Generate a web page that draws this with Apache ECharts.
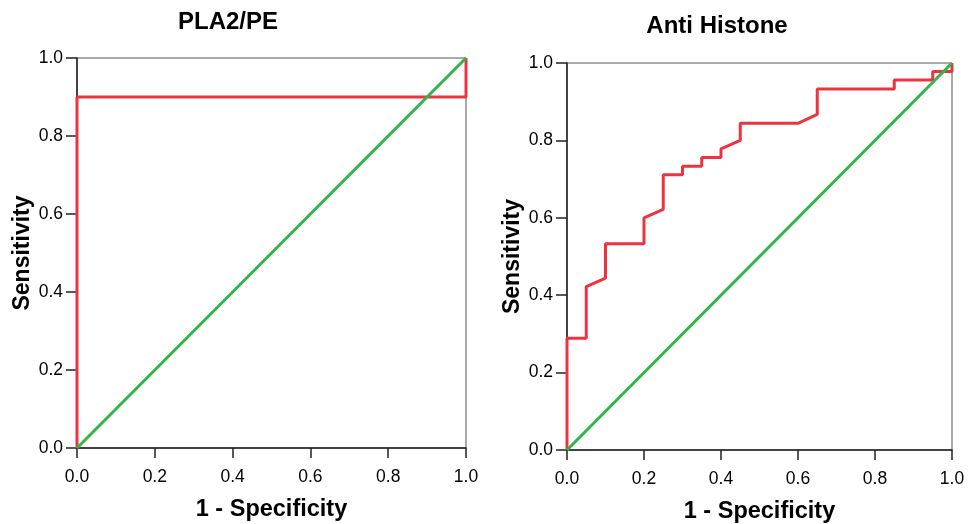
<!DOCTYPE html>
<html>
<head>
<meta charset="utf-8">
<script src="https://cdn.jsdelivr.net/npm/echarts@6/dist/echarts.min.js"></script>
<style>
  html, body { margin: 0; padding: 0; background: #fff; }
  #chart { width: 968px; height: 524px; }
</style>
</head>
<body>
<div id="chart"></div>
<script>
// Panel titles
const titles = ['PLA2/PE', 'Anti Histone'];
const xTitle = '1 - Specificity';
const yTitle = 'Sensitivity';

// PLA2/PE ROC curve (1 - specificity, sensitivity)
const plaFpr = [0, 0, 1, 1];
const plaTpr = [0, 0.9, 0.9, 1];

// Anti Histone ROC curve (1 - specificity, sensitivity)
const histFpr = [0, 0, 0.05, 0.05, 0.10, 0.10, 0.20, 0.20, 0.25, 0.25, 0.30, 0.30, 0.35, 0.35,
                 0.40, 0.40, 0.45, 0.45, 0.60, 0.65, 0.65, 0.85, 0.85, 0.95, 0.95, 1, 1];
const histTpr = [0, 0.289, 0.289, 0.422, 0.444, 0.533, 0.533, 0.600, 0.622, 0.711, 0.711, 0.733, 0.733, 0.756,
                 0.756, 0.778, 0.800, 0.844, 0.844, 0.867, 0.933, 0.933, 0.956, 0.956, 0.978, 0.978, 1];

// Reference diagonal
const refX = [0, 1];
const refY = [0, 1];

const pairs = (xs, ys) => xs.map((x, i) => [x, ys[i]]);

const FONT = '"Liberation Sans", Arial, sans-serif';
const RED = '#ee3340';
const GREEN = '#2fb548';
const AXIS = '#222';

const grids = [
  { left: 77, right: 502, top: 58, bottom: 76 },
  { left: 567, right: 16, top: 63, bottom: 74 }
].map(g => Object.assign(g, {
  show: true, borderColor: '#555', borderWidth: 1, backgroundColor: 'transparent',
  containLabel: false, outerBoundsMode: 'none'
}));

function xAxis(i) {
  return {
    type: 'value', gridIndex: i, min: 0, max: 1, interval: 0.2,
    name: xTitle, nameLocation: 'middle', nameGap: 50,
    nameTextStyle: { fontFamily: FONT, fontSize: 23.5, fontWeight: 'bold', color: '#000' },
    axisLine: { show: true, lineStyle: { color: AXIS, width: 1.5 } },
    axisTick: { show: true, length: 10, lineStyle: { color: AXIS, width: 1.5 } },
    axisLabel: { fontFamily: FONT, fontSize: 17.5, color: '#000', margin: 20, formatter: v => v.toFixed(1) },
    splitLine: { show: false }
  };
}
function yAxis(i) {
  return {
    type: 'value', gridIndex: i, min: 0, max: 1, interval: 0.2,
    name: yTitle, nameLocation: 'middle', nameGap: 43, nameRotate: 90,
    nameTextStyle: { fontFamily: FONT, fontSize: 23, fontWeight: 'bold', color: '#000' },
    axisLine: { show: true, lineStyle: { color: AXIS, width: 1.5 } },
    axisTick: { show: true, length: 11, lineStyle: { color: AXIS, width: 1.5 } },
    axisLabel: { fontFamily: FONT, fontSize: 17.5, color: '#000', margin: 14, formatter: v => v.toFixed(1) },
    splitLine: { show: false }
  };
}

function lineSeries(i, data, color, width) {
  return {
    type: 'line', xAxisIndex: i, yAxisIndex: i, data: data,
    showSymbol: false, symbol: 'none', animation: false, silent: true,
    lineStyle: { color: color, width: width }
  };
}

const chart = echarts.init(document.getElementById('chart'), null, { renderer: 'canvas' });
chart.setOption({
  backgroundColor: '#fff',
  animation: false,
  title: [
    { text: titles[0], left: 223, top: 5, textAlign: 'center',
      textStyle: { fontFamily: FONT, fontSize: 24, fontWeight: 'bold', color: '#000' } },
    { text: titles[1], left: 712, top: 9, textAlign: 'center',
      textStyle: { fontFamily: FONT, fontSize: 24, fontWeight: 'bold', color: '#000' } }
  ],
  grid: grids,
  xAxis: [xAxis(0), xAxis(1)],
  yAxis: [yAxis(0), yAxis(1)],
  series: [
    lineSeries(0, pairs(plaFpr, plaTpr), RED, 3),
    lineSeries(0, pairs(refX, refY), GREEN, 3),
    lineSeries(1, pairs(histFpr, histTpr), RED, 3),
    lineSeries(1, pairs(refX, refY), GREEN, 3)
  ]
});
</script>
</body>
</html>
